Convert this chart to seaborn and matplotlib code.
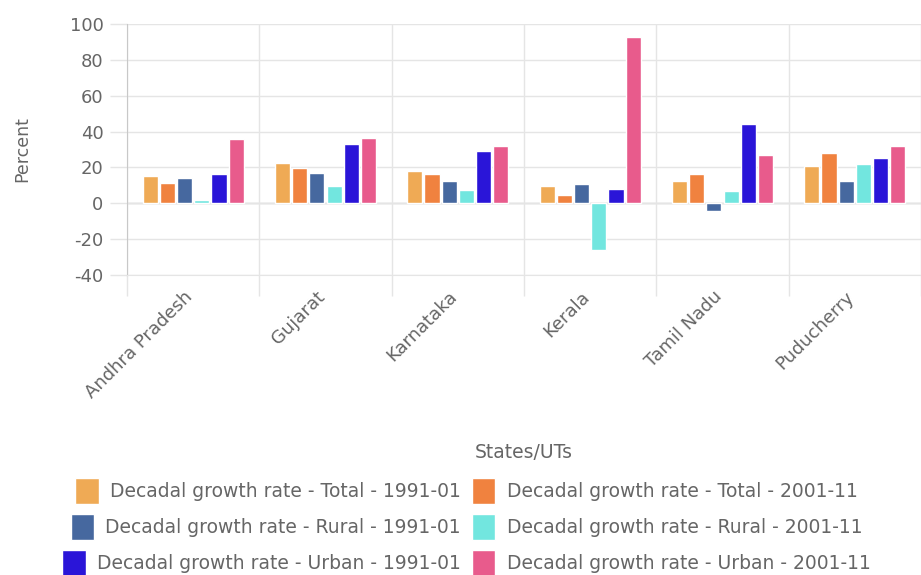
import numpy as np
import pandas as pd
import matplotlib
matplotlib.use('Agg')
import matplotlib.pyplot as plt
from matplotlib.transforms import ScaledTranslation
import seaborn as sns

# values (percent)
states = ['Andhra Pradesh', 'Gujarat', 'Karnataka', 'Kerala', 'Tamil Nadu', 'Puducherry']
series = ['Decadal growth rate - Total - 1991-01', 'Decadal growth rate - Total - 2001-11',
          'Decadal growth rate - Rural - 1991-01', 'Decadal growth rate - Rural - 2001-11',
          'Decadal growth rate - Urban - 1991-01', 'Decadal growth rate - Urban - 2001-11']
total_1991 = [15.1, 22.6, 17.9, 9.5, 12.3, 20.7]
total_2001 = [11.4, 19.8, 16.1, 4.9, 16.1, 28.2]
rural_1991 = [14.0, 17.0, 12.3, 10.5, -4.5, 12.3]
rural_2001 = [2.1, 9.5, 7.3, -25.9, 6.7, 21.7]
urban_1991 = [16.1, 32.8, 29.1, 7.7, 44.0, 25.4]
urban_2001 = [35.6, 36.6, 31.9, 92.5, 27.2, 31.9]
colors = ['#efaa55', '#f0823f', '#46689f', '#72e6df', '#2a15d8', '#e85b8c']

text_col = '#666666'
grid_col = '#e5e5e5'

values = [total_1991, total_2001, rural_1991, rural_2001, urban_1991, urban_2001]
rows = []
for name, vals in zip(series, values):
    for st, v in zip(states, vals):
        rows.append({'state': st, 'series': name, 'value': v})
df = pd.DataFrame(rows)

sns.set_style('white')
plt.rcParams['font.family'] = ['DejaVu Sans']
plt.rcParams['axes.unicode_minus'] = False

W, H = 921, 575
fig = plt.figure(figsize=(W / 100, H / 100), dpi=100)
ax = fig.add_axes([127 / W, 1 - 275 / H, 794 / W, 251 / H])

sns.barplot(data=df, x='state', y='value', hue='series', hue_order=series, order=states,
            palette=colors, saturation=1, width=0.78, gap=0.12, ax=ax)
handles, labels = ax.get_legend_handles_labels()
ax.get_legend().remove()

ax.set_ylim(-40, 100)
ax.set_yticks(np.arange(-40, 101, 20))
ax.set_xlim(-0.5, 5.5)
ax.set_xticks(np.arange(-0.5, 6, 1), minor=True)
ax.set_axisbelow(True)
ax.grid(which='minor', axis='x', color=grid_col, lw=1)
ax.grid(which='major', axis='y', color=grid_col, lw=1)
ax.grid(which='major', axis='x', visible=False)
ax.axhline(0, color='#bdbdbd', lw=1, zorder=0.5)

ax.tick_params(axis='x', which='both', bottom=True)
ax.tick_params(axis='x', which='minor', length=15, color=grid_col, width=1)
ax.tick_params(axis='x', which='major', length=0, pad=9, labelsize=13, labelcolor=text_col)
ax.tick_params(axis='y', left=True, length=12, color=grid_col, width=1, pad=5,
               labelsize=13, labelcolor=text_col)
shift = ScaledTranslation(-10 / 100, 0, fig.dpi_scale_trans)
for lbl in ax.get_xticklabels():
    lbl.set_rotation(45)
    lbl.set_ha('right')
    lbl.set_rotation_mode('anchor')
    lbl.set_transform(lbl.get_transform() + shift)

for side in ['top', 'right']:
    ax.spines[side].set_visible(False)
ax.spines['bottom'].set_color(grid_col)
ax.spines['left'].set_color('#c8c8c8')

ax.set_ylabel('Percent', fontsize=12.5, color=text_col, va='center')
ax.yaxis.set_label_coords(-0.132, 0.5)
ax.set_xlabel('States/UTs', fontsize=13.5, color=text_col, va='center')
ax.xaxis.set_label_coords(0.5, (275 - 452) / 251)

# legend: two columns, left one right-aligned, right one left-aligned
row_y = [491, 527, 563]
for i, (h, l) in enumerate(zip(handles, labels)):
    r, c = i // 2, i % 2
    if c == 0:
        loc, x = 'center right', 461 / W
    else:
        loc, x = 'center left', 472 / W
    fig.legend(handles=[h], labels=[l], loc=loc, bbox_to_anchor=(x, 1 - row_y[r] / H),
               frameon=False, fontsize=13.5, labelcolor=text_col, handlelength=1.25,
               handleheight=1.75, handletextpad=0.6, borderpad=0, borderaxespad=0)

fig.savefig('out.png', dpi=100)
